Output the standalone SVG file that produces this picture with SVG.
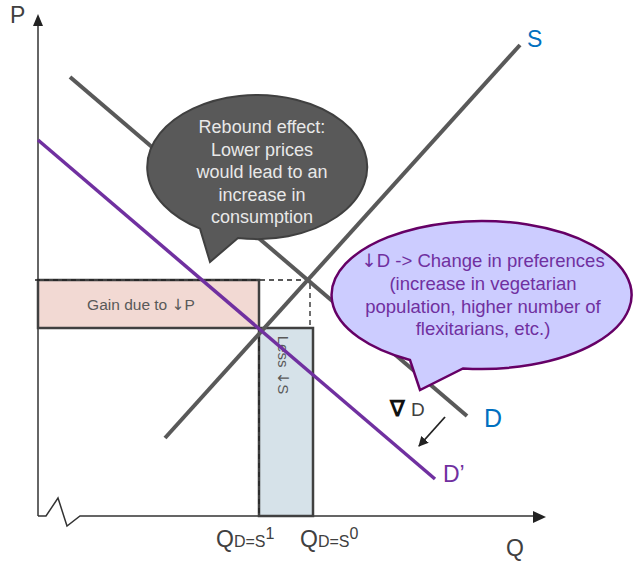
<svg xmlns="http://www.w3.org/2000/svg" width="641" height="562" viewBox="0 0 641 562">
<style>
text{font-family:"Liberation Sans",Arial,sans-serif}
.ar{font-family:"DejaVu Sans",sans-serif;font-weight:normal}
.ax{stroke:#333;stroke-width:1.5;fill:none}
.curve{stroke:#595959;stroke-width:4;fill:none}
.dash{stroke:#222;stroke-width:1.3;stroke-dasharray:5,4;fill:none}
.lbl{font-size:23px;fill:#404040}
.blue{font-size:23px;fill:#0070c0}
</style>
<defs>
<marker id="ah" markerWidth="10" markerHeight="10" refX="9" refY="5" orient="auto" markerUnits="userSpaceOnUse">
<path d="M0,0 L10,5 L0,10 Z" fill="#222"/>
</marker>
</defs>
<rect width="641" height="562" fill="#fff"/>
<g id="axes">
<path class="ax" d="M38,516 V22"/>
<path d="M33,26 L38,14 L43,26 Z" fill="#222"/>
<path class="ax" d="M38,516 H46 L58,498 L67,526 L80,516 H536"/>
<path d="M533,511 L546,517 L533,523 Z" fill="#222"/>
<text class="lbl" x="10" y="23">P</text>
<text class="lbl" x="506" y="556">Q</text>
</g>
<g id="gain">
<rect x="38" y="280" width="221" height="48" fill="#f2d9d3" stroke="#404040" stroke-width="2.5"/>
<text x="141" y="310" font-size="15.5" fill="#595959" text-anchor="middle">Gain due to <tspan class="ar">↓</tspan>P</text>
</g>
<g id="loss">
<rect x="259" y="328" width="54" height="188" fill="#d6e2e9" stroke="#404040" stroke-width="2.5"/>
<text transform="translate(278,365) rotate(90)" font-size="15" fill="#595959" text-anchor="middle">Less <tspan class="ar">↓</tspan>S</text>
</g>
<g id="connectors">
<path class="dash" d="M35,280 H310 V328"/>
<path class="dash" d="M259,328 V516"/>
<line class="curve" x1="165" y1="438" x2="520" y2="45"/>
<line class="curve" x1="70" y1="77" x2="467" y2="416"/>
<line x1="38" y1="140" x2="435" y2="479" stroke="#7030a0" stroke-width="3.5"/>
<line x1="445" y1="417" x2="419" y2="446" stroke="#222" stroke-width="1.8" marker-end="url(#ah)"/>
</g>
<g id="labels">
<text class="blue" x="527" y="47">S</text>
<text x="484" y="427" font-size="25" fill="#0070c0">D</text>
<text x="443" y="482" font-size="23" fill="#7030a0">D’</text>
<text x="390" y="416" font-size="22" font-weight="bold" fill="#111">∇</text>
<text x="411" y="416" font-size="19" fill="#404040">D</text>
<text x="216" y="547" class="lbl">Q<tspan font-size="16">D=S</tspan><tspan font-size="16" dy="-8">1</tspan></text>
<text x="300" y="547" class="lbl">Q<tspan font-size="16">D=S</tspan><tspan font-size="16" dy="-8">0</tspan></text>
</g>
<g id="bubble-rebound">
<path d="M238,238 A110 72 0 1 0 200,228.6 L210,262 Z" fill="#595959" stroke="#404040" stroke-width="2"/>
<g font-size="18" fill="#e8e8e8" text-anchor="middle">
<text x="262" y="133">Rebound effect:</text>
<text x="262" y="155.5">Lower prices</text>
<text x="262" y="178">would lead to an</text>
<text x="262" y="200.5">increase in</text>
<text x="262" y="223">consumption</text>
</g>
</g>
<g id="bubble-preferences">
<path d="M463,368.4 A150 74 0 1 0 410,360 L420,390 Z" fill="#ccccff" stroke="#660066" stroke-width="2.5"/>
<g font-size="18.5" fill="#7030a0" text-anchor="middle">
<text x="483" y="267"><tspan class="ar">↓</tspan>D -&gt; Change in preferences</text>
<text x="483" y="290">(increase in vegetarian</text>
<text x="483" y="312.5">population, higher number of</text>
<text x="483" y="335">flexitarians, etc.)</text>
</g>
</g>
</svg>
